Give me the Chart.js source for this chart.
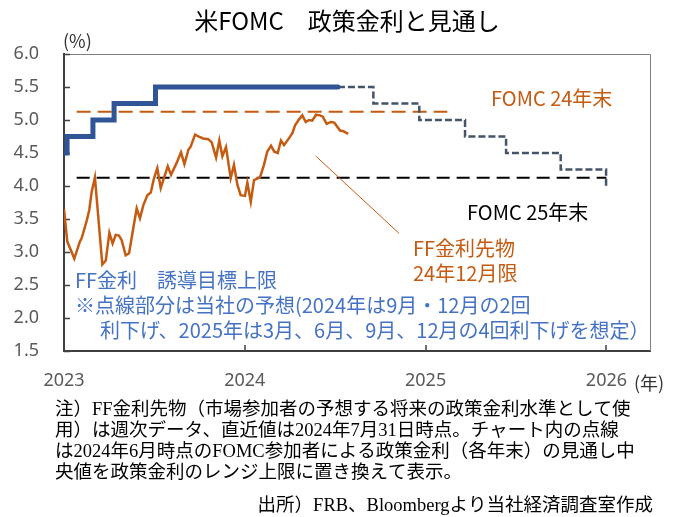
<!DOCTYPE html>
<html>
<head>
<meta charset="utf-8">
<script src="https://cdn.jsdelivr.net/npm/chart.js@4.4.1/dist/chart.umd.min.js"></script>
<style>
  body { margin: 0; background: #fff; }
  canvas { display: block; }
</style>
</head>
<body>
<canvas id="c" width="673" height="517"></canvas>
<script>
// 目盛り（年・%）
const yearTicks = [2023, 2024, 2025, 2026];
const rateTicks = [1.5, 2.0, 2.5, 3.0, 3.5, 4.0, 4.5, 5.0, 5.5, 6.0];

// FF金利先物 24年12月限（週次、横軸は年の小数表記）
const futuresDate = [
  2023.000, 2023.018, 2023.057, 2023.088, 2023.098, 2023.126, 2023.140, 2023.153, 2023.171, 2023.212,
  2023.231, 2023.251, 2023.269, 2023.286, 2023.304, 2023.319, 2023.341, 2023.360, 2023.380, 2023.402,
  2023.420, 2023.439, 2023.461, 2023.480, 2023.498, 2023.516, 2023.535, 2023.574, 2023.592, 2023.623,
  2023.647, 2023.666, 2023.688, 2023.701, 2023.725, 2023.743, 2023.770, 2023.798, 2023.817, 2023.841,
  2023.859, 2023.876, 2023.896, 2023.922, 2023.940, 2023.959, 2023.977, 2024.001, 2024.014, 2024.033,
  2024.051, 2024.084, 2024.106, 2024.124, 2024.145, 2024.163, 2024.182, 2024.200, 2024.217, 2024.241,
  2024.263, 2024.278, 2024.300, 2024.318, 2024.337, 2024.355, 2024.373, 2024.394, 2024.416, 2024.431,
  2024.453, 2024.475, 2024.495, 2024.527, 2024.545, 2024.572
];
const futuresRate = [
  3.65, 3.16, 2.90, 3.16, 3.21, 3.48, 3.64, 3.91, 4.13, 2.81,
  2.87, 3.29, 3.13, 3.26, 3.25, 3.18, 2.95, 2.98, 3.31, 3.66,
  3.51, 3.71, 3.86, 3.90, 4.12, 4.27, 3.97, 4.30, 4.17, 4.35,
  4.51, 4.33, 4.55, 4.60, 4.78, 4.75, 4.72, 4.71, 4.66, 4.43,
  4.69, 4.45, 4.59, 4.12, 4.32, 4.02, 3.86, 3.85, 4.05, 3.76,
  4.09, 4.13, 4.32, 4.52, 4.61, 4.52, 4.50, 4.69, 4.62, 4.71,
  4.80, 4.92, 5.01, 5.07, 4.97, 5.00, 4.99, 5.08, 5.07, 5.05,
  4.94, 4.97, 4.96, 4.84, 4.83, 4.79
];

// FF金利 誘導目標上限（実績）
const targetDate = [2023.000, 2023.017, 2023.160, 2023.277, 2023.506, 2024.515];
const targetRate = [4.50, 4.75, 5.00, 5.25, 5.50, 5.50];

// 当社予想（点線）
const forecastDate = [2024.515, 2024.711, 2024.965, 2025.218, 2025.445, 2025.747, 2025.998];
const forecastRate = [5.50, 5.25, 5.00, 4.75, 4.50, 4.25, 4.00];

// FOMC見通し（中央値をレンジ上限に置換）
const fomc24Date = [2023.07, 2025.12];
const fomc24Rate = [5.125, 5.125];
const fomc25Date = [2023.07, 2026.00];
const fomc25Rate = [4.125, 4.125];

// 先物ラベルへの引き出し線
const leaderDate = [2024.392, 2024.853];
const leaderRate = [4.455, 3.283];

function pts(xs, ys) {
  return xs.map((x, i) => ({ x: x, y: ys[i] }));
}

const ORANGE = '#C55A11';
const BLUE = '#2F5597';
const TEXT_BLUE = '#4472C4';
const JP = '"Noto Sans CJK JP", "Noto Sans", sans-serif';

const overlay = {
  id: 'overlay',
  beforeDatasetsDraw(chart) {
    const ctx = chart.ctx;
    const a = chart.chartArea;
    ctx.save();
    // 枠線（上・右）
    ctx.strokeStyle = '#7f7f7f';
    ctx.lineWidth = 1;
    ctx.beginPath();
    ctx.moveTo(a.left, a.top + 0.5);
    ctx.lineTo(a.right + 0.5, a.top + 0.5);
    ctx.lineTo(a.right + 0.5, a.bottom);
    ctx.stroke();
    // 内向きの目盛り
    ctx.strokeStyle = '#404040';
    ctx.lineWidth = 1.5;
    ctx.beginPath();
    chart.scales.y.ticks.forEach(t => {
      const py = Math.round(chart.scales.y.getPixelForValue(t.value)) + 0.5;
      ctx.moveTo(a.left, py);
      ctx.lineTo(a.left + 6, py);
    });
    chart.scales.x.ticks.forEach(t => {
      const px = Math.round(chart.scales.x.getPixelForValue(t.value));
      ctx.moveTo(px, a.bottom);
      ctx.lineTo(px, a.bottom - 6);
    });
    ctx.stroke();
    ctx.restore();
  },
  afterDraw(chart) {
    const ctx = chart.ctx;
    ctx.save();
    ctx.textBaseline = 'middle';

    // タイトル
    ctx.fillStyle = '#000';
    ctx.font = '24px ' + JP;
    ctx.textAlign = 'center';
    ctx.fillText('米FOMC　政策金利と見通し', 347, 21);

    ctx.textAlign = 'left';
    ctx.fillStyle = '#333';
    ctx.font = '18px ' + JP;
    ctx.fillText('(%)', 63, 41);
    ctx.fillText('(年)', 634, 383);

    ctx.font = '20px ' + JP;
    ctx.fillStyle = ORANGE;
    ctx.fillText('FOMC 24年末', 491, 98);
    ctx.fillText('FF金利先物', 413, 248);
    ctx.fillText('24年12月限', 413, 273);
    ctx.fillStyle = '#000';
    ctx.fillText('FOMC 25年末', 467, 212);

    ctx.fillStyle = TEXT_BLUE;
    ctx.fillText('FF金利　誘導目標上限', 75, 280);
    ctx.fillText('※点線部分は当社の予想(2024年は9月・12月の2回', 75, 305);
    ctx.fillText('利下げ、2025年は3月、6月、9月、12月の4回利下げを想定）', 100, 330);

    // 注記
    ctx.fillStyle = '#000';
    ctx.font = '18.5px "Liberation Serif", "Noto Sans CJK JP", serif';
    ctx.fillText('注）FF金利先物（市場参加者の予想する将来の政策金利水準として使', 55, 410);
    ctx.fillText('用）は週次データ、直近値は2024年7月31日時点。チャート内の点線', 55, 431);
    ctx.fillText('は2024年6月時点のFOMC参加者による政策金利（各年末）の見通し中', 55, 452);
    ctx.fillText('央値を政策金利のレンジ上限に置き換えて表示。', 55, 473);
    ctx.textAlign = 'right';
    ctx.fillText('出所）FRB、Bloombergより当社経済調査室作成', 653, 506);
    ctx.restore();
  }
};

new Chart(document.getElementById('c'), {
  type: 'line',
  data: {
    datasets: [
      {
        label: 'FF金利先物 24年12月限',
        data: pts(futuresDate, futuresRate),
        borderColor: ORANGE,
        borderWidth: 2.5,
        pointRadius: 0,
        tension: 0
      },
      {
        label: 'FF金利 誘導目標上限',
        data: pts(targetDate, targetRate),
        borderColor: BLUE,
        borderWidth: 5,
        stepped: 'before',
        pointRadius: 0,
        borderCapStyle: 'round'
      },
      {
        label: '当社予想',
        data: pts(forecastDate, forecastRate),
        borderColor: '#44546A',
        borderWidth: 2.5,
        borderDash: [7, 3],
        stepped: 'before',
        pointRadius: 0
      },
      {
        label: 'leader',
        data: pts(leaderDate, leaderRate),
        borderColor: ORANGE,
        borderWidth: 1,
        pointRadius: 0
      },
      {
        label: 'FOMC 24年末',
        data: pts(fomc24Date, fomc24Rate),
        borderColor: ORANGE,
        borderWidth: 1.8,
        borderDash: [14, 7],
        pointRadius: 0
      },
      {
        label: 'FOMC 25年末',
        data: pts(fomc25Date, fomc25Rate),
        borderColor: '#000',
        borderWidth: 2.2,
        borderDash: [13, 7],
        pointRadius: 0
      }
    ]
  },
  options: {
    responsive: false,
    animation: false,
    layout: { padding: { left: 0, right: 23, top: 54, bottom: 126 } },
    plugins: {
      legend: { display: false },
      tooltip: { enabled: false },
      title: { display: false }
    },
    scales: {
      x: {
        type: 'linear',
        min: 2023,
        max: 2026.241,
        afterFit: s => { s.height = 40; },
        afterBuildTicks: s => { s.ticks = yearTicks.map(v => ({ value: v })); },
        grid: { display: false, drawTicks: false },
        border: { display: true, color: '#404040', width: 2 },
        ticks: {
          padding: 19,
          color: '#595959',
          font: { family: '"Noto Sans", sans-serif', size: 18 },
          callback: v => String(v)
        }
      },
      y: {
        min: 1.5,
        max: 6.0,
        afterFit: s => { s.width = 64; },
        afterBuildTicks: s => { s.ticks = rateTicks.map(v => ({ value: v })); },
        grid: { display: false, drawTicks: false },
        border: { display: true, color: '#404040', width: 2 },
        ticks: {
          padding: 25,
          color: '#595959',
          font: { family: '"Noto Sans", sans-serif', size: 18 },
          callback: v => Number(v).toFixed(1)
        }
      }
    }
  },
  plugins: [overlay]
});
</script>
</body>
</html>
